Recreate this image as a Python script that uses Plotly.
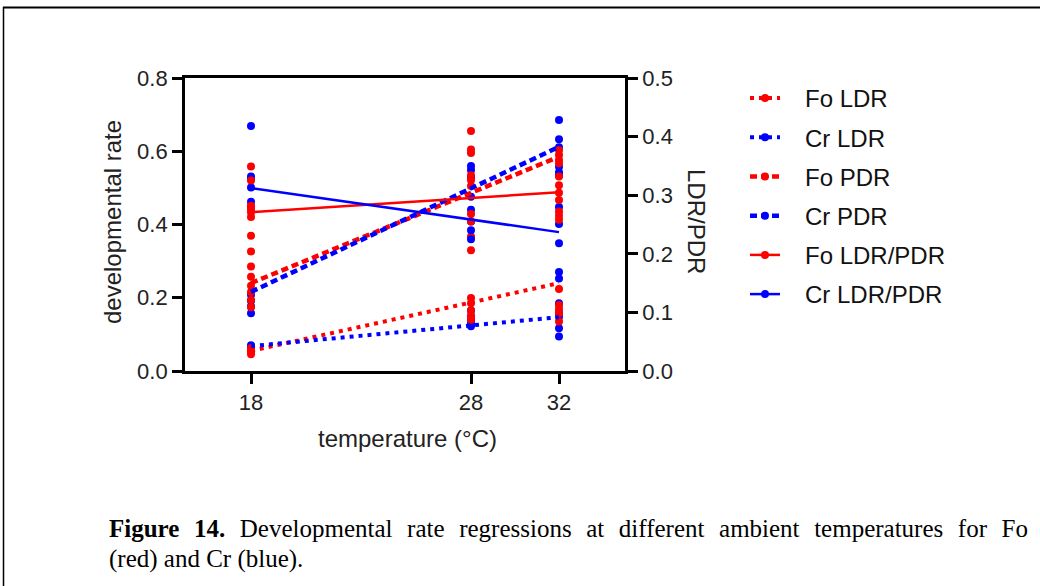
import plotly.graph_objects as go

# ---------------- data ----------------
temps = [18, 28, 32]
fit_temps = [18, 32]

# developmental rates (left axis), one list per temperature
fo_ldr = [[0.063, 0.058, 0.052, 0.046],
          [0.199, 0.185, 0.165, 0.150, 0.140],
          [0.224, 0.180, 0.169, 0.158, 0.135]]
cr_ldr = [[0.070, 0.066, 0.062],
          [0.165, 0.150, 0.138, 0.128, 0.122],
          [0.185, 0.160, 0.148, 0.117, 0.094]]
fo_pdr = [[0.285, 0.257, 0.233, 0.216, 0.194, 0.174],
          [0.655, 0.521, 0.505, 0.429, 0.367],
          [0.603, 0.590, 0.576, 0.567]]
cr_pdr = [[0.208, 0.192, 0.177, 0.158],
          [0.560, 0.530, 0.476, 0.440],
          [0.685, 0.633, 0.611, 0.558, 0.543]]
# LDR/PDR ratios (right axis)
fo_ratio = [[0.349, 0.325, 0.282, 0.276, 0.271, 0.263, 0.231, 0.204],
            [0.378, 0.372, 0.334, 0.255, 0.206],
            [0.332, 0.317, 0.304, 0.292, 0.272, 0.265, 0.258]]
cr_ratio = [[0.418, 0.332, 0.328, 0.313, 0.289, 0.280],
            [0.343, 0.255, 0.240, 0.225],
            [0.334, 0.280, 0.251, 0.218, 0.169, 0.158]]

# regression line values at 18 and 32 °C
fo_ldr_fit = [0.055, 0.240]
cr_ldr_fit = [0.068, 0.147]
fo_pdr_fit = [0.240, 0.585]
cr_pdr_fit = [0.216, 0.612]
fo_ratio_fit = [0.271, 0.305]
cr_ratio_fit = [0.312, 0.237]

series_names = ["Fo LDR", "Cr LDR", "Fo PDR", "Cr PDR", "Fo LDR/PDR", "Cr LDR/PDR"]
x_ticks = [18, 28, 32]
left_ticks = [0.0, 0.2, 0.4, 0.6, 0.8]
right_ticks = [0.0, 0.1, 0.2, 0.3, 0.4, 0.5]

RED = "#FF0000"
BLUE = "#0000FF"
FONT = "Arial, Liberation Sans, sans-serif"
SERIF = "Times New Roman, Liberation Serif, serif"

series = [
    dict(name=series_names[0], vals=fo_ldr, fit=fo_ldr_fit, color=RED, dash="4px,5px", w=4, axis="y"),
    dict(name=series_names[1], vals=cr_ldr, fit=cr_ldr_fit, color=BLUE, dash="4px,5px", w=4, axis="y"),
    dict(name=series_names[2], vals=fo_pdr, fit=fo_pdr_fit, color=RED, dash="7px,4px", w=4.5, axis="y"),
    dict(name=series_names[3], vals=cr_pdr, fit=cr_pdr_fit, color=BLUE, dash="7px,4px", w=4.5, axis="y"),
    dict(name=series_names[4], vals=fo_ratio, fit=fo_ratio_fit, color=RED, dash="solid", w=2.5, axis="y2"),
    dict(name=series_names[5], vals=cr_ratio, fit=cr_ratio_fit, color=BLUE, dash="solid", w=2.5, axis="y2"),
]

fig = go.Figure()

# points: blue first, red on top
for s in [series[1], series[3], series[5], series[0], series[2], series[4]]:
    xs, ys = [], []
    for t, vals in zip(temps, s["vals"]):
        xs += [t] * len(vals)
        ys += vals
    fig.add_trace(go.Scatter(x=xs, y=ys, mode="markers", yaxis=s["axis"],
                             marker=dict(color=s["color"], size=8), showlegend=False,
                             hoverinfo="skip"))

# regression lines
for s in series:
    fig.add_trace(go.Scatter(x=fit_temps, y=s["fit"], mode="lines", yaxis=s["axis"],
                             line=dict(color=s["color"], width=s["w"], dash=s["dash"]),
                             showlegend=False, hoverinfo="skip"))

# legend entries
for i, s in enumerate(series):
    fig.add_trace(go.Scatter(x=[None], y=[None], mode="lines+markers", yaxis=s["axis"],
                             name="\u00a0\u00a0\u00a0" + s["name"], legendgroup="g%d" % i,
                             line=dict(color=s["color"], width=s["w"], dash=s["dash"]),
                             marker=dict(color=s["color"], size=8)))

W, H = 1040, 586
L, R, T, B = 185, 625, 78, 371
pw, ph = R - L, B - T


def px(x):
    return (x - L) / pw


def py(y):
    return (B - y) / ph


axis_common = dict(showline=True, linecolor="black", linewidth=2.8, ticks="outside",
                   ticklen=10, tickwidth=2.8, tickcolor="black", showgrid=False,
                   zeroline=False, tickfont=dict(family=FONT, size=22, color="#222"))

fig.update_layout(
    width=W, height=H,
    margin=dict(l=L, r=W - R, t=T, b=H - B, pad=0),
    paper_bgcolor="white", plot_bgcolor="white",
    xaxis=dict(range=[15, 35], tickvals=x_ticks, mirror=True, **axis_common),
    yaxis=dict(range=[0, 0.8], tickvals=left_ticks, tickformat=".1f", **axis_common),
    yaxis2=dict(range=[0, 0.5], tickvals=right_ticks, tickformat=".1f", overlaying="y",
                side="right", **axis_common),
    legend=dict(x=px(745), y=py(76), xanchor="left", yanchor="top",
                font=dict(family=FONT, size=24, color="#111"),
                traceorder="grouped", tracegroupgap=5, itemwidth=30,
                bgcolor="rgba(0,0,0,0)"),
    showlegend=True,
)

annos = [
    dict(text="developmental rate", x=px(112), y=py(222), textangle=-90,
         font=dict(family=FONT, size=24, color="#222")),
    dict(text="LDR/PDR", x=px(697), y=py(221), textangle=90,
         font=dict(family=FONT, size=24, color="#222")),
    dict(text="temperature (°C)", x=px(407), y=py(438),
         font=dict(family=FONT, size=24, color="#222")),
]
for a in annos:
    fig.add_annotation(xref="paper", yref="paper", showarrow=False,
                       xanchor="center", yanchor="middle", **a)

# caption, first line spread out to the right edge (justified look)
GAP = " \u00a0\u200a"
caption_words = ["<b>Figure", "14.</b>", "Developmental", "rate", "regressions", "at",
                 "different", "ambient", "temperatures", "for", "Fo"]
line1 = GAP.join(caption_words)

fig.add_annotation(xref="paper", yref="paper", showarrow=False, xanchor="left", yanchor="middle",
                   x=px(107), y=py(528), text=line1,
                   font=dict(family=SERIF, size=25, color="black"))
fig.add_annotation(xref="paper", yref="paper", showarrow=False, xanchor="left", yanchor="middle",
                   x=px(107), y=py(559), text="(red) and Cr (blue).",
                   font=dict(family=SERIF, size=25, color="black"))

# figure frame (top and left border)
fig.add_shape(type="line", xref="paper", yref="paper", x0=px(3), x1=px(1040), y0=py(7.5), y1=py(7.5),
              line=dict(color="black", width=2))
fig.add_shape(type="line", xref="paper", yref="paper", x0=px(3.5), x1=px(3.5), y0=py(7), y1=py(586),
              line=dict(color="black", width=1.5))

fig.write_html("out.html")
